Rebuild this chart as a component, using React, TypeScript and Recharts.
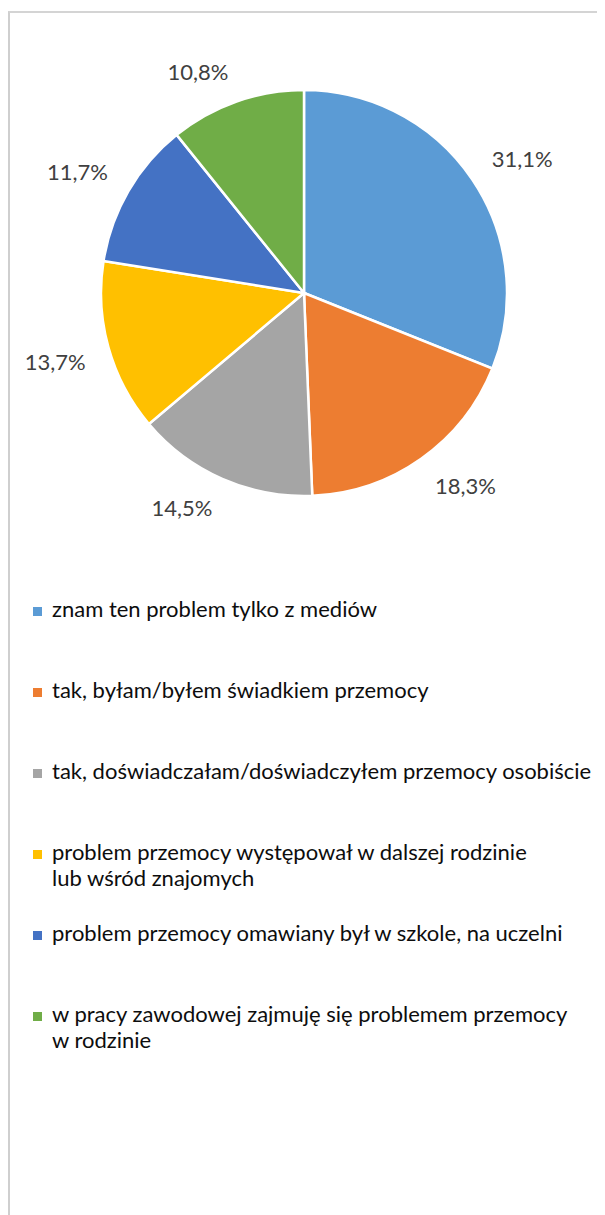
import React from 'react';
import { PieChart, Pie, Cell, Legend } from 'recharts';

const categories = [
  'znam ten problem tylko z mediów',
  'tak, byłam/byłem świadkiem przemocy',
  'tak, doświadczałam/doświadczyłem przemocy osobiście',
  'problem przemocy występował w dalszej rodzinie\nlub wśród znajomych',
  'problem przemocy omawiany był w szkole, na uczelni',
  'w pracy zawodowej zajmuję się problemem przemocy\nw rodzinie',
];
const shares = [31.1, 18.3, 14.5, 13.7, 11.7, 10.8];
const colors = ['#5B9BD5', '#ED7D31', '#A5A5A5', '#FFC000', '#4472C4', '#70AD47'];

const data = categories.map((name, i) => ({ name, value: shares[i] }));

const RAD = Math.PI / 180;
const FONT = 'Lato, "Open Sans", "DejaVu Sans", sans-serif';

const fmt = (v: number) => `${v.toFixed(1).replace('.', ',')}%`;

// label box: the corner nearest the pie sits on a circle just outside the pie
const renderLabel = (props: any) => {
  const { cx, cy, midAngle, outerRadius, value } = props;
  const dx = Math.cos(-midAngle * RAD);
  const dy = Math.sin(-midAngle * RAD);
  const r = outerRadius + 23;
  const hw = 31;
  const hh = 8;
  const x = cx + r * dx + Math.sign(dx) * hw;
  const y = cy + r * dy + Math.sign(dy) * hh;
  return (
    <text
      x={x}
      y={y}
      textAnchor="middle"
      dominantBaseline="central"
      fill="#404040"
      fontSize={22}
      fontFamily={FONT}
    >
      {fmt(value)}
    </text>
  );
};

const renderLegend = () => (
  <div style={{ position: 'relative', width: 595, height: 520, fontFamily: FONT }}>
    {categories.map((c, i) => (
      <div key={c} style={{ position: 'absolute', left: 0, top: i * 81, width: 590 }}>
        <div
          style={{
            position: 'absolute',
            left: 23,
            top: 10,
            width: 9,
            height: 9,
            background: colors[i],
          }}
        />
        <div
          style={{
            position: 'absolute',
            left: 42,
            top: -1,
            fontSize: 22,
            lineHeight: '26px',
            color: '#0d0d0d',
            whiteSpace: 'pre',
          }}
        >
          {c}
        </div>
      </div>
    ))}
  </div>
);

export default function App() {
  return (
    <div
      style={{
        marginTop: 3,
        width: 597,
        height: 1204,
        borderTop: '2px solid #d4d4d4',
        borderLeft: '2px solid #cfcfcf',
        position: 'relative',
        boxSizing: 'border-box',
        background: '#fff',
      }}
    >
      <PieChart width={595} height={1202} margin={{ top: 0, right: 0, bottom: 0, left: 0 }}>
        <Pie
          data={data}
          dataKey="value"
          nameKey="name"
          cx={294}
          cy={280}
          outerRadius={203}
          startAngle={90}
          endAngle={-270}
          stroke="#ffffff"
          strokeWidth={2.5}
          label={renderLabel}
          labelLine={false}
          isAnimationActive={false}
        >
          {data.map((d, i) => (
            <Cell key={d.name} fill={colors[i]} />
          ))}
        </Pie>
        <Legend
          content={renderLegend}
          wrapperStyle={{ position: 'absolute', top: 584, left: 0, bottom: 'auto', width: 595 }}
        />
      </PieChart>
    </div>
  );
}
